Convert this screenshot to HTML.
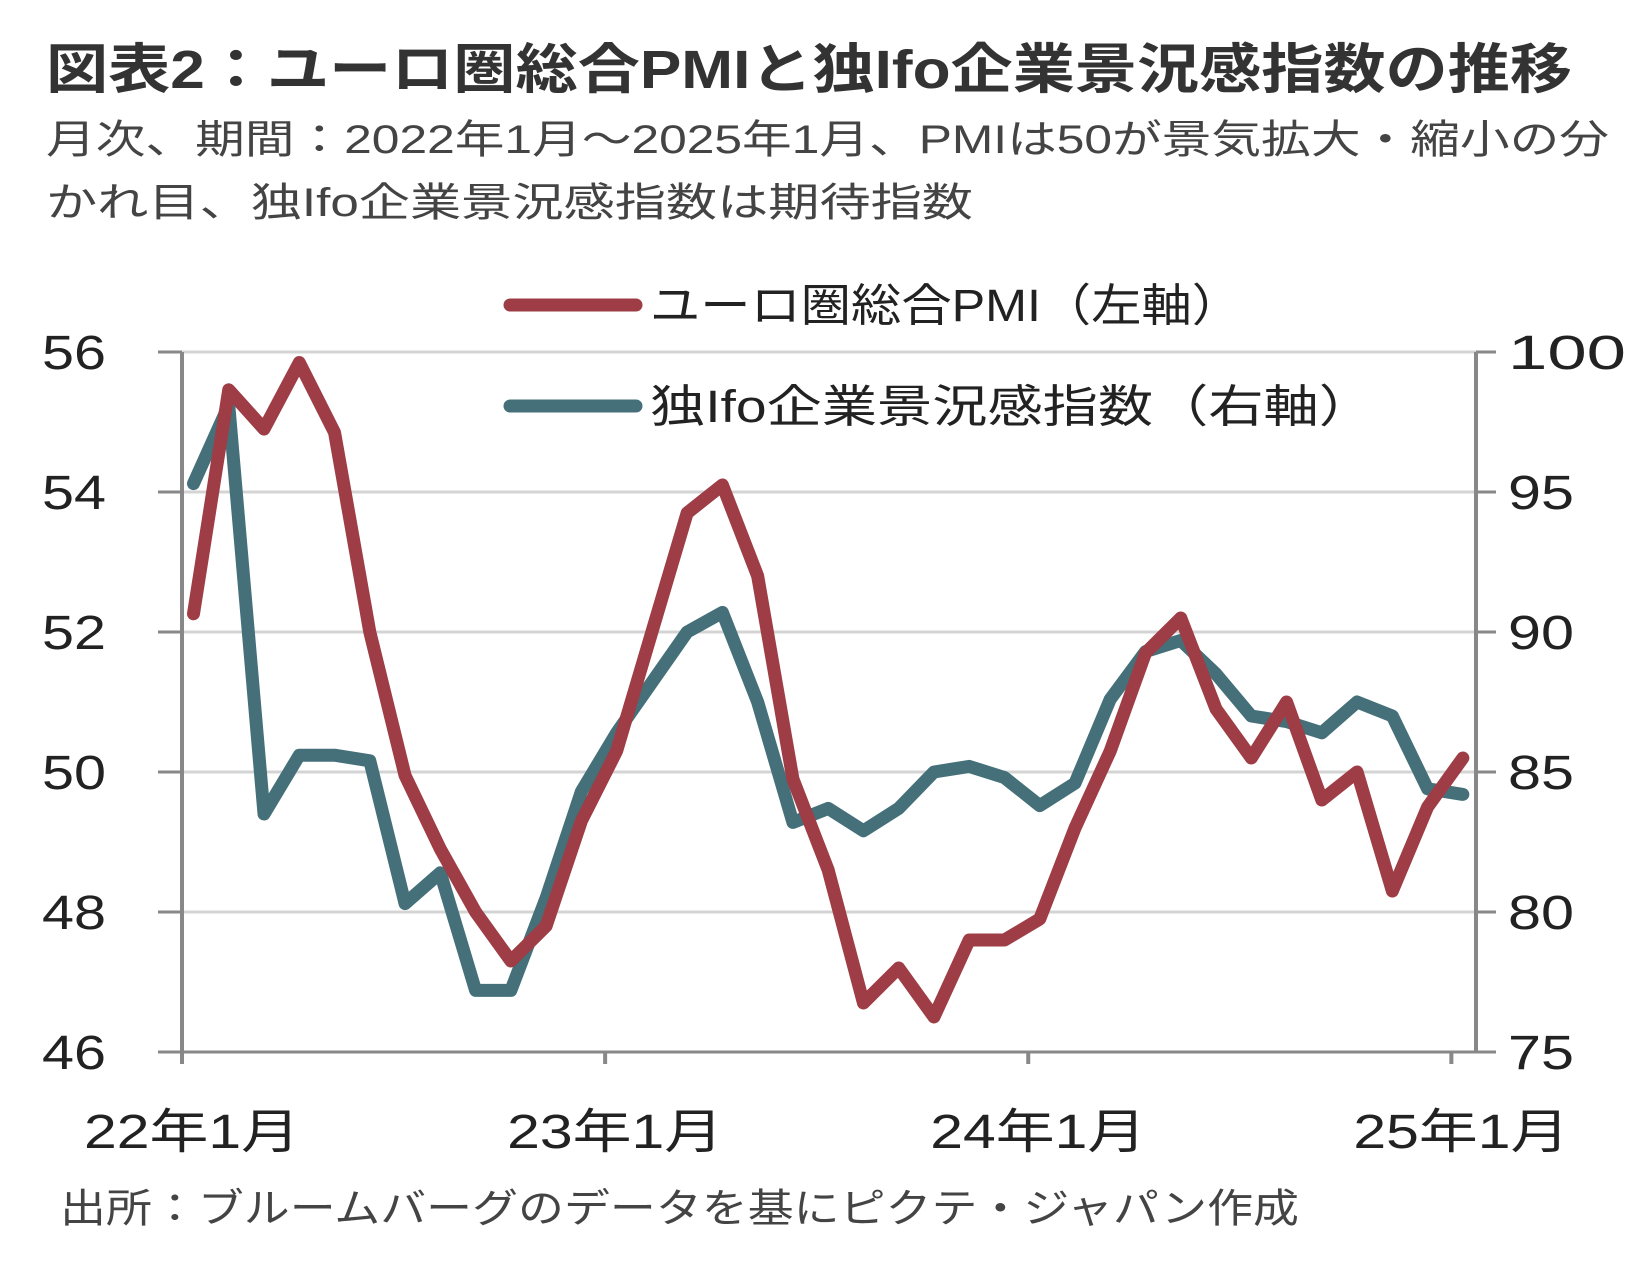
<!DOCTYPE html>
<html><head><meta charset="utf-8"><style>
body{margin:0;background:#fff;}
svg{display:block;font-family:"Liberation Sans","Noto Sans CJK JP",sans-serif;}
</style></head><body>
<svg width="1647" height="1265" viewBox="0 0 1647 1265">
<text x="46" y="88" font-size="54" font-weight="bold" fill="#333" textLength="1526" lengthAdjust="spacingAndGlyphs">図表2：ユーロ圏総合PMIと独Ifo企業景況感指数の推移</text>
<text x="46" y="153" font-size="40" fill="#444" textLength="1563" lengthAdjust="spacingAndGlyphs">月次、期間：2022年1月～2025年1月、PMIは50が景気拡大・縮小の分</text>
<text x="46" y="216" font-size="40" fill="#444" textLength="927" lengthAdjust="spacingAndGlyphs">かれ目、独Ifo企業景況感指数は期待指数</text>
<g id="grid"></g>
<g id="axes"></g>
<g id="series"></g>
<g>
<line x1="510" y1="305" x2="636" y2="305" stroke="#9e3d45" stroke-width="13" stroke-linecap="round"/>
<text x="650" y="321" font-size="45" fill="#222" textLength="592" lengthAdjust="spacingAndGlyphs">ユーロ圏総合PMI（左軸）</text>
<line x1="510" y1="406" x2="636" y2="406" stroke="#457079" stroke-width="13" stroke-linecap="round"/>
<text x="650" y="422" font-size="45" fill="#222" textLength="724" lengthAdjust="spacingAndGlyphs">独Ifo企業景況感指数（右軸）</text>
</g>
<text x="60" y="1222" font-size="40" fill="#444" textLength="1239" lengthAdjust="spacingAndGlyphs">出所：ブルームバーグのデータを基にピクテ・ジャパン作成</text>
</svg>
<script>
const pmi=[52.26,55.46,54.9,55.85,54.85,52.0,49.95,48.9,48.0,47.3,47.8,49.3,50.3,52.0,53.7,54.1,52.8,49.9,48.6,46.7,47.2,46.5,47.6,47.6,47.9,49.2,50.3,51.7,52.2,50.9,50.2,51.0,49.6,50.0,48.3,49.5,50.2];
const ifo=[95.3,98.1,83.5,85.6,85.6,85.4,80.3,81.4,77.2,77.2,80.5,84.3,86.4,88.2,90.0,90.7,87.5,83.2,83.7,82.9,83.7,85.0,85.2,84.8,83.8,84.6,87.6,89.3,89.7,88.5,87.0,86.8,86.4,87.5,87.0,84.4,84.2];
const leftTicks=[46,48,50,52,54,56];
const rightTicks=[75,80,85,90,95,100];
const xLabels=["22年1月","23年1月","24年1月","25年1月"];
const xLabelIdx=[0,12,24,36];
const NS="http://www.w3.org/2000/svg";
const X0=182,X1=1476,Y0=352,Y1=1052,STEP=35.26,OFF=11.5;
const yL=v=>Y1-(v-46)/(56-46)*(Y1-Y0);
const yR=v=>Y1-(v-75)/(100-75)*(Y1-Y0);
const xI=i=>X0+OFF+i*STEP;
const xT=i=>X0+i*STEP;
function mk(t,a,p){const e=document.createElementNS(NS,t);for(const k in a)e.setAttribute(k,a[k]);p.appendChild(e);return e;}
const grid=document.getElementById('grid'),axes=document.getElementById('axes'),ser=document.getElementById('series');
leftTicks.forEach((v,k)=>{const y=yL(v);
 if(k>0){const g=mk('line',{x1:X0,x2:X1,y1:y,y2:y,stroke:'#d4d4d4','stroke-width':3},grid);
 
 }
 const tk=mk('line',{x1:X0-24,x2:X0,y1:y,y2:y,stroke:'#888','stroke-width':3},axes);
 
 
 const t=mk('text',{x:42,y:y+17,'font-size':48,fill:'#222',textLength:64,lengthAdjust:'spacingAndGlyphs'},axes);t.textContent=v;
 
 });
rightTicks.forEach(v=>{const y=yR(v);
 const tk=mk('line',{x1:X1,x2:X1+20,y1:y,y2:y,stroke:'#888','stroke-width':3},axes);
 
 
 const t=mk('text',{x:1508,y:y+17,'font-size':48,fill:'#222',textLength:String(v).length>2?118:66,lengthAdjust:'spacingAndGlyphs'},axes);t.textContent=v;
 
 });
let a=mk('line',{x1:X0,x2:X0,y1:Y0,y2:Y1+10,stroke:'#888','stroke-width':4},axes);


a=mk('line',{x1:X1,x2:X1,y1:Y0,y2:Y1,stroke:'#888','stroke-width':4},axes);


a=mk('line',{x1:X0,x2:X1,y1:Y1,y2:Y1,stroke:'#888','stroke-width':3},axes);


xLabelIdx.forEach((i,k)=>{const x=xT(i);
 const tk=mk('line',{x1:x,x2:x,y1:Y1,y2:Y1+12,stroke:'#888','stroke-width':4},axes);
 
 
 const t=mk('text',{x:x-98,y:1148,'font-size':48,fill:'#222',textLength:216,lengthAdjust:'spacingAndGlyphs'},axes);t.textContent=xLabels[k];
 
 });
const pI=mk('polyline',{points:ifo.map((v,i)=>xI(i)+','+yR(v)).join(' '),fill:'none',stroke:'#457079','stroke-width':13,'stroke-linejoin':'round','stroke-linecap':'round'},ser);


const pP=mk('polyline',{points:pmi.map((v,i)=>xI(i)+','+yL(v)).join(' '),fill:'none',stroke:'#9e3d45','stroke-width':13,'stroke-linejoin':'round','stroke-linecap':'round'},ser);


</script>
</body></html>
